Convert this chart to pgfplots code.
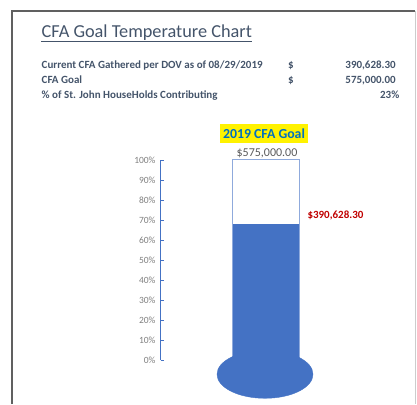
\documentclass[border=0pt]{standalone}
\usepackage{pgfplots}
\pgfplotsset{compat=1.18}
\usepackage{fontspec}
\setmainfont{Carlito}
\definecolor{slate}{HTML}{44546A}
\definecolor{barblue}{HTML}{4472C4}
\definecolor{edgeblue}{HTML}{8FAADC}
\definecolor{ticklab}{HTML}{7F7F7F}
\definecolor{goalblue}{HTML}{0070C0}
\definecolor{darkred}{HTML}{C00000}
\definecolor{valgray}{HTML}{595959}
\begin{document}
\begin{tikzpicture}
\begin{axis}[
  scale only axis, width=239.3bp, height=200bp,
  xmin=160.7, xmax=400, ymin=0, ymax=1,
  clip=false,
  axis x line=none,
  axis y line*=left,
  y axis line style={barblue, line width=1bp, -},
  ytick={0,0.1,0.2,0.3,0.4,0.5,0.6,0.7,0.8,0.9,1},
  yticklabels={0\%,10\%,20\%,30\%,40\%,50\%,60\%,70\%,80\%,90\%,100\%},
  tick align=inside, major tick length=3.5bp,
  ytick style={barblue, line width=0.8bp},
  yticklabel style={font=\fontsize{9.5bp}{11bp}\selectfont, text=ticklab, inner sep=0pt, anchor=east, xshift=-5bp},
  /pgf/number format/assume math mode=true,
]
% picture extent (417 x 404 px)
\path (axis cs:0,1.8) rectangle (axis cs:417,-0.22);
% frame
\draw[gray!75!black, line width=1.3bp] (axis cs:12,-0.22) -- (axis cs:12,1.745) -- (axis cs:415,1.745);
\draw[gray!40, line width=0.8bp] (axis cs:415.5,1.745) -- (axis cs:415.5,-0.22);
% title
\node[anchor=base west, inner sep=0pt, font=\fontsize{18.3bp}{21bp}\selectfont, text=slate] (T) at (axis cs:41.5,1.6135) {CFA Goal Temperature Chart};
\draw[slate, line width=1.1bp] ([yshift=-4bp]T.base west) -- ([yshift=-4bp]T.base east);
% rows
\begin{scope}[every node/.style={inner sep=0pt, font=\fontsize{11bp}{13bp}\selectfont\bfseries, text=slate}]
\node[anchor=base west] at (axis cs:41.5,1.455) {Current CFA Gathered per DOV as of 08/29/2019};
\node[anchor=base west] at (axis cs:41.5,1.3815) {CFA Goal};
\node[anchor=base west] at (axis cs:41.5,1.3085) {\% of St. John HouseHolds Contributing};
\node[anchor=base west] at (axis cs:288,1.455) {\$};
\node[anchor=base west] at (axis cs:288,1.3815) {\$};
\node[anchor=base east] at (axis cs:396,1.455) {390,628.30};
\node[anchor=base east] at (axis cs:396,1.3815) {575,000.00};
\node[anchor=base east] at (axis cs:399.5,1.3085) {23\%};
\end{scope}
% goal bar (100%)
\addplot[ybar, bar width=66.6bp, bar shift=0pt, fill=white, draw=edgeblue, line width=1bp] coordinates {(266,1)};
% bulb
\addplot[only marks, color=barblue, mark=*, mark size=24bp, mark options={xscale=2, fill=barblue, draw=barblue}] coordinates {(265,-0.0715)};
% current bar
\addplot[ybar, bar width=66.6bp, bar shift=0pt, fill=barblue, draw=none] coordinates {(266,0.6794)};
% labels
\fill[yellow] (axis cs:220,1.18) rectangle (axis cs:308,1.0865);
\node[anchor=base, inner sep=0pt, font=\fontsize{13.8bp}{16bp}\selectfont\bfseries, text=goalblue] at (axis cs:264,1.105) {2019 CFA Goal};
\node[anchor=base, inner sep=0pt, font=\fontsize{12bp}{14bp}\selectfont, text=valgray] at (axis cs:267,1.0175) {\$575,000.00};
\node[anchor=base west, inner sep=0pt, font=\fontsize{11bp}{13bp}\selectfont\bfseries, text=darkred] at (axis cs:307.3,0.7085) {\$390,628.30};
\end{axis}
\end{tikzpicture}
\end{document}
